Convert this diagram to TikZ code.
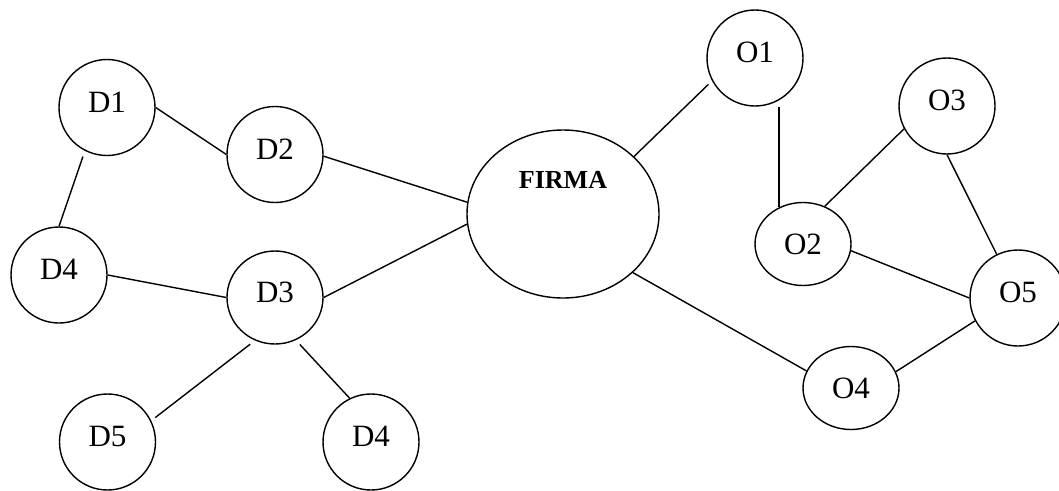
\documentclass[tikz,border=0pt]{standalone}
\usepackage{fontspec}
\setmainfont{Liberation Serif}
\usetikzlibrary{shapes.geometric}
\begin{document}
\begin{tikzpicture}[x=1pt,y=-1pt,
  actor/.style={draw, ellipse, line width=1.4pt, inner sep=0pt,
    minimum width=96pt, minimum height=96pt,
    font=\fontsize{31}{31}\selectfont, text height=21pt, text depth=12pt},
  flat/.style={minimum height=83pt, text depth=0pt},
  firm/.style={draw, ellipse, line width=1.4pt, inner sep=0pt,
    minimum width=192pt, minimum height=168pt,
    font=\bfseries\fontsize{26}{26}\selectfont, text height=18pt, text depth=70pt},
  link/.style={line width=1.4pt}]
\clip (0,0) rectangle (1059,490);

% central firm
\node[firm] (F) at (563,214) {FIRMA};

% left-hand group
\node[actor] (D1) at (107,107.5) {D1};
\node[actor] (D2) at (275,154.5) {D2};
\node[actor] (D4a) at (59,275) {D4};
\node[actor, minimum height=93pt] (D3) at (275,297.5) {D3};
\node[actor] (D5) at (107.5,442) {D5};
\node[actor] (D4b) at (371,442) {D4};

% right-hand group
\node[actor] (O1) at (755,58) {O1};
\node[actor] (O3) at (947,106) {O3};
\node[actor, flat] (O2) at (803,244) {O2};
\node[actor] (O5) at (1018,298) {O5};
\node[actor, flat] (O4) at (851,388) {O4};

% connections
\draw[link] (D1.0) -- (D2.180);
\draw[link, shorten <=6pt] (D1.243) -- (D4a.90);
\draw[link] (D2.358) -- (F.173);
\draw[link] (D3.0) -- (F.186);
\draw[link] (D4a.0) -- (D3.180);
\draw[link, shorten <=6pt, shorten >=5pt] (D3.245) -- (D5.26);
\draw[link, shorten <=6pt] (D3.296) -- (D4b.116);

\draw[link, shorten >=5pt] (F.39) -- (O1.208);
\draw[link] (F.320) -- (O4.159);
\draw[link] (O2.123) -- (O2.123 |- O1.south);
\draw[link] (O2.60) -- (O3.208);
\draw[link] (O3.270) -- (O5.116);
\draw[link] (O2.352) -- (O5.180);
\draw[link] (O4.20) -- (O5.208);
\end{tikzpicture}
\end{document}
